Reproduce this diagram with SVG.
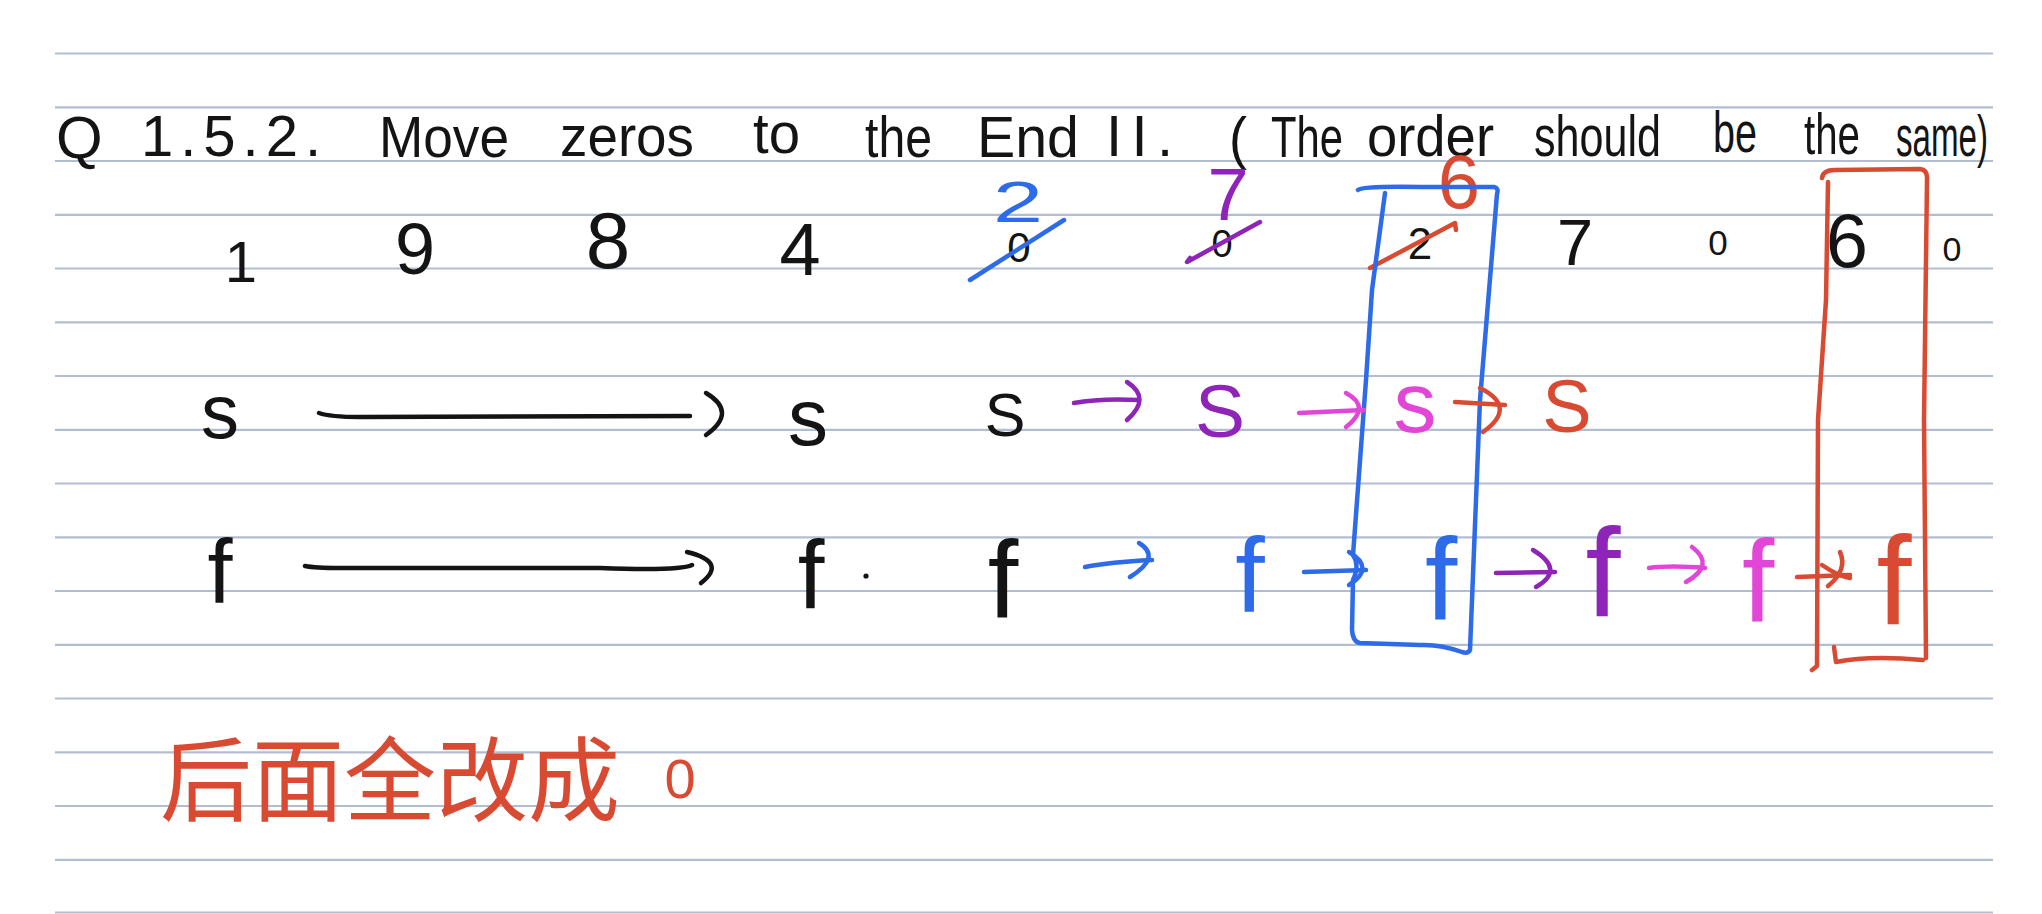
<svg xmlns="http://www.w3.org/2000/svg" width="2042" height="914" viewBox="0 0 2042 914">
<style>
.rule{stroke:#b3bdd2;stroke-width:2.2}
.t{font-family:"Liberation Sans",Arial,sans-serif}
.m{text-anchor:middle}
.k{fill:#141414}
.bl{fill:#2d6be8}
.pu{fill:#8e24b8}
.pk{fill:#e246d6}
.rd{fill:#d84a32}
.s{fill:none;stroke-linecap:round;stroke-linejoin:round;stroke-width:4.5}
.sk{stroke:#141414}
.sbl{stroke:#2d6be8}
.spu{stroke:#8e24b8}
.spk{stroke:#e246d6}
.srd{stroke:#d84a32}
</style>
<rect width="2042" height="914" fill="#ffffff"/>
<g id="ruled-lines">
<line class="rule" x1="55" y1="53.5" x2="1993" y2="53.5"/>
<line class="rule" x1="55" y1="107.3" x2="1993" y2="107.3"/>
<line class="rule" x1="55" y1="161" x2="1993" y2="161"/>
<line class="rule" x1="55" y1="214.8" x2="1993" y2="214.8"/>
<line class="rule" x1="55" y1="268.5" x2="1993" y2="268.5"/>
<line class="rule" x1="55" y1="322.3" x2="1993" y2="322.3"/>
<line class="rule" x1="55" y1="376" x2="1993" y2="376"/>
<line class="rule" x1="55" y1="429.8" x2="1993" y2="429.8"/>
<line class="rule" x1="55" y1="483.5" x2="1993" y2="483.5"/>
<line class="rule" x1="55" y1="537.3" x2="1993" y2="537.3"/>
<line class="rule" x1="55" y1="591" x2="1993" y2="591"/>
<line class="rule" x1="55" y1="644.8" x2="1993" y2="644.8"/>
<line class="rule" x1="55" y1="698.5" x2="1993" y2="698.5"/>
<line class="rule" x1="55" y1="752.3" x2="1993" y2="752.3"/>
<line class="rule" x1="55" y1="806" x2="1993" y2="806"/>
<line class="rule" x1="55" y1="859.8" x2="1993" y2="859.8"/>
<line class="rule" x1="55" y1="912.5" x2="1993" y2="912.5"/>
</g>
<g id="title" class="t k" font-size="58">
<text x="56" y="158" font-size="60">Q</text>
<text x="141" y="156" textLength="180" lengthAdjust="spacing">1.5.2.</text>
<text x="379" y="157" textLength="130" lengthAdjust="spacingAndGlyphs">Move</text>
<text x="560" y="156" textLength="134" lengthAdjust="spacingAndGlyphs">zeros</text>
<text x="753" y="153" textLength="47" lengthAdjust="spacingAndGlyphs">to</text>
<text x="865" y="157" textLength="67" lengthAdjust="spacingAndGlyphs">the</text>
<text x="977" y="157" textLength="102" lengthAdjust="spacingAndGlyphs">End</text>
<text x="1106" y="156" textLength="67" lengthAdjust="spacing">II.</text>
<text x="1229" y="158" textLength="18" lengthAdjust="spacingAndGlyphs">(</text>
<text x="1271" y="157" textLength="72" lengthAdjust="spacingAndGlyphs">The</text>
<text x="1367" y="156" textLength="127" lengthAdjust="spacingAndGlyphs">order</text>
<text x="1534" y="156" textLength="127" lengthAdjust="spacingAndGlyphs">should</text>
<text x="1713" y="152" textLength="44" lengthAdjust="spacingAndGlyphs">be</text>
<text x="1804" y="154" textLength="56" lengthAdjust="spacingAndGlyphs">the</text>
<text x="1896" y="156" textLength="92" lengthAdjust="spacingAndGlyphs">same)</text>
</g>
<g id="array-row" class="t m">
<text class="k" x="241" y="282" font-size="58">1</text>
<text class="k" x="415" y="274" font-size="72">9</text>
<text class="k" x="608" y="268" font-size="80">8</text>
<text class="k" x="800" y="275" font-size="74">4</text>
<text class="k" x="1019" y="262" font-size="42">0</text>
<text class="k" x="1222" y="257" font-size="38">0</text>
<text class="k" x="1420" y="259" font-size="44">2</text>
<text class="k" x="1575" y="265" font-size="65">7</text>
<text class="k" x="1718" y="255" font-size="35">0</text>
<text class="k" x="1847" y="267" font-size="76">6</text>
<text class="k" x="1952" y="261" font-size="34">0</text>
</g>
<g id="replacements" class="t m">
<text class="bl" x="1018" y="222" font-size="58" textLength="50" lengthAdjust="spacingAndGlyphs">2</text>
<path class="s sbl" d="M970,280 L1064,220"/>
<text class="pu" x="1228" y="220" font-size="74">7</text>
<path class="s spu" d="M1190,258 L1187,262 L1260,222"/>
<text class="rd" x="1459" y="208" font-size="76">6</text>
<path class="s srd" d="M1370,268 L1455,223 L1456,230"/>
</g>
<g id="box-blue">
<path class="s sbl" d="M1358,190 Q1362,186 1420,187 L1494,187 Q1499,188 1497,194 Q1488,300 1480,400 L1470,650 Q1468,654 1462,652 Q1440,644 1420,645 L1360,643 Q1353,642 1352,630 L1353,580 Q1360,565 1353,555 L1366,380 L1372,290 L1385,193"/>
</g>
<g id="box-red">
<path class="s srd" d="M1822,178 Q1823,170 1835,170 L1920,169 Q1928,170 1927,180 L1924,420 L1926,658"/>
<path class="s srd" d="M1828,182 L1826,300 L1818,420 L1817,666 L1812,670"/>
<path class="s srd" d="M1834,647 L1836,662 Q1870,655 1923,660"/>
</g>
<g id="s-row" class="t m">
<text class="k" x="220" y="438" font-size="76">s</text>
<text class="k" x="808" y="445" font-size="80">s</text>
<text class="k" x="1005" y="436" font-size="61">S</text>
<text class="pu" x="1220" y="437" font-size="75">S</text>
<text class="pk" x="1415" y="432" font-size="86">s</text>
<text class="rd" x="1567" y="432" font-size="74">S</text>
</g>
<g id="f-row" class="t m">
<text class="k" x="220" y="603" font-size="90">f</text>
<text class="k" x="811" y="608" font-size="96">f</text>
<circle cx="866" cy="576" r="2.6" fill="#141414"/>
<text class="k" x="1003" y="617" font-size="110">f</text>
<text class="bl" x="1250" y="612" font-size="106">f</text>
<text class="bl" x="1441" y="620" font-size="116">f</text>
<text class="pu" x="1603" y="617" font-size="126">f</text>
<text class="pk" x="1758" y="622" font-size="116">f</text>
<text class="rd" x="1894" y="625" font-size="126">f</text>
</g>
<g id="note" class="t rd">
<text x="160" y="814" font-size="92" textLength="460" lengthAdjust="spacingAndGlyphs" font-family="'Liberation Sans','Noto Sans CJK SC',sans-serif">后面全改成</text>
<text x="680" y="798" font-size="56" class="m">0</text>
</g>
<g id="connectors">
<path class="s sk" d="M319,413 Q330,417 360,417 L690,416"/>
<path class="s sk" d="M706,393 Q738,412 706,435"/>
<path class="s sk" d="M305,566 Q315,568 340,568 L600,568 Q680,571 692,565"/>
<path class="s sk" d="M687,552 Q728,562 701,583"/>
<path class="s spu" d="M1074,403 Q1100,398 1139,400"/>
<path class="s spu" d="M1127,382 Q1152,398 1127,420"/>
<path class="s spk" d="M1299,413 L1364,410"/>
<path class="s spk" d="M1346,393 Q1372,407 1346,427"/>
<path class="s srd" d="M1455,402 L1505,405"/>
<path class="s srd" d="M1480,388 Q1518,407 1483,432"/>
<path class="s sbl" d="M1085,567 Q1110,562 1152,560"/>
<path class="s sbl" d="M1139,543 Q1162,557 1130,577"/>
<path class="s sbl" d="M1304,572 L1366,570"/>
<path class="s sbl" d="M1349,552 Q1376,568 1349,585"/>
<path class="s spu" d="M1496,573 L1555,572"/>
<path class="s spu" d="M1533,550 Q1566,570 1536,587"/>
<path class="s spk" d="M1649,568 Q1670,565 1705,568"/>
<path class="s spk" d="M1692,547 Q1716,565 1686,582"/>
<path class="s srd" d="M1797,577 L1850,575"/>
<path class="s srd" d="M1840,552 Q1848,570 1828,586 M1822,565 Q1838,576 1850,578"/>
</g>
</svg>
